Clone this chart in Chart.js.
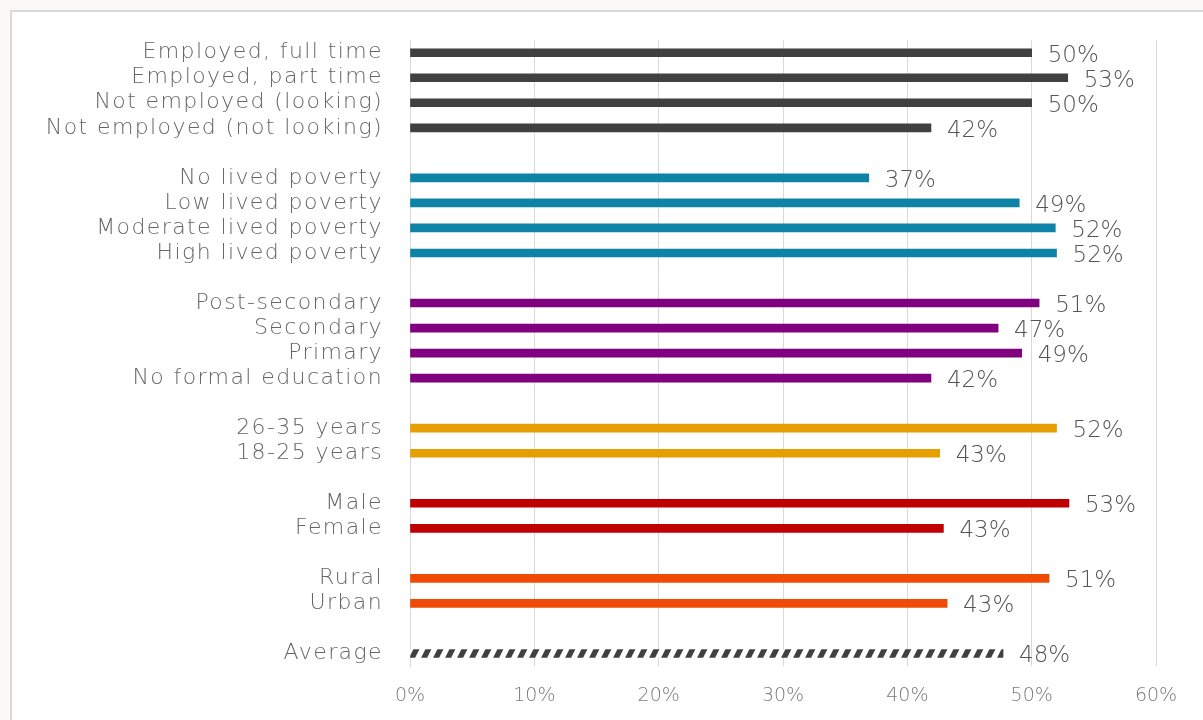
<!DOCTYPE html>
<html>
<head>
<meta charset="utf-8">
<script src="https://cdn.jsdelivr.net/npm/chart.js@4.4.1/dist/chart.umd.min.js"></script>
<style>
  html, body { margin: 0; padding: 0; background: #fbf8f6; overflow: hidden; }
  #frame {
    position: absolute; left: 10px; top: 10px; width: 1300px; height: 800px;
    background: #fff; border: 2px solid #d9d9d9;
  }
  #wrap { position: absolute; left: 0; top: 0; width: 1203px; height: 720px; }
</style>
</head>
<body>
<div id="frame"></div>
<div id="wrap"><canvas id="chart" width="1203" height="720"></canvas></div>
<script>
// Rows top to bottom; empty strings are spacer rows between groups
const categories = [
  'Employed, full time', 'Employed, part time', 'Not employed (looking)', 'Not employed (not looking)', '',
  'No lived poverty', 'Low lived poverty', 'Moderate lived poverty', 'High lived poverty', '',
  'Post-secondary', 'Secondary', 'Primary', 'No formal education', '',
  '26-35 years', '18-25 years', '',
  'Male', 'Female', '',
  'Rural', 'Urban', '',
  'Average'
];
const shares = [
  50.0, 52.9, 50.0, 41.9, null,
  36.9, 49.0, 51.9, 52.0, null,
  50.6, 47.3, 49.2, 41.9, null,
  52.0, 42.6, null,
  53.0, 42.9, null,
  51.4, 43.2, null,
  47.7
];
const groupColors = [
  '#404040', '#404040', '#404040', '#404040', null,
  '#0e83a8', '#0e83a8', '#0e83a8', '#0e83a8', null,
  '#800080', '#800080', '#800080', '#800080', null,
  '#e69f00', '#e69f00', null,
  '#c00000', '#c00000', null,
  '#ef4b05', '#ef4b05', null,
  'hatch'
];
const xTicks = [0, 10, 20, 30, 40, 50, 60];

// diagonal stripes for the Average bar
function makeHatch() {
  const c = document.createElement('canvas');
  c.width = 12; c.height = 24;
  const g = c.getContext('2d');
  g.fillStyle = '#fff';
  g.fillRect(0, 0, 12, 24);
  g.fillStyle = '#404040';
  for (const off of [-12, 0, 12]) {
    g.beginPath();
    g.moveTo(off + 6, 0);
    g.lineTo(off + 12, 0);
    g.lineTo(off, 24);
    g.lineTo(off - 6, 24);
    g.closePath();
    g.fill();
  }
  return g.createPattern(c, 'repeat');
}
const hatch = makeHatch();
const barColors = groupColors.map(c => c === 'hatch' ? hatch : c);

const FONT = '"DejaVu Sans", sans-serif';

// wider tracking for the category labels only
const tracking = {
  id: 'tracking',
  beforeDraw(chart) {
    const y = chart.scales.y;
    if (y._tracked) return;
    const orig = y.drawLabels;
    y.drawLabels = function (area) {
      chart.ctx.letterSpacing = '1.4px';
      orig.call(this, area);
      chart.ctx.letterSpacing = '0px';
    };
    y._tracked = true;
  }
};

// value labels drawn just past the end of each bar
const valueLabels = {
  id: 'valueLabels',
  afterDatasetsDraw(chart) {
    const ctx = chart.ctx;
    const meta = chart.getDatasetMeta(0);
    ctx.save();
    ctx.font = '200 23px ' + FONT;
    ctx.fillStyle = '#555555';
    ctx.textAlign = 'left';
    ctx.textBaseline = 'middle';
    meta.data.forEach((bar, i) => {
      const v = shares[i];
      if (v === null) return;
      ctx.fillText(Math.round(v) + '%', bar.x + 16, bar.y + 3);
    });
    ctx.restore();
  }
};

new Chart(document.getElementById('chart'), {
  type: 'bar',
  data: {
    labels: categories,
    datasets: [{
      data: shares,
      backgroundColor: barColors,
      barThickness: 8,
      borderWidth: 0
    }]
  },
  options: {
    indexAxis: 'y',
    responsive: false,
    animation: false,
    layout: { padding: { left: 0, right: 47, top: 38, bottom: 0 } },
    plugins: { legend: { display: false }, tooltip: { enabled: false } },
    scales: {
      x: {
        min: 0, max: 60,
        afterBuildTicks(scale) { scale.ticks = xTicks.map(v => ({ value: v })); },
        afterFit(scale) { scale.height = 54; },
        grid: { color: '#d9d9d9', lineWidth: 1, drawTicks: false },
        border: { display: false },
        ticks: {
          padding: 19,
          color: '#7a7a7a',
          font: { family: FONT, size: 19, weight: 200 },
          callback: v => v + '%'
        }
      },
      y: {
        afterFit(scale) { scale.width = 410; },
        grid: { display: false, drawTicks: false },
        border: { display: true, color: '#d9d9d9', width: 1 },
        ticks: {
          padding: 27,
          autoSkip: false,
          color: '#666666',
          font: { family: FONT, size: 22, weight: 200 }
        }
      }
    }
  },
  plugins: [tracking, valueLabels]
});
</script>
</body>
</html>
